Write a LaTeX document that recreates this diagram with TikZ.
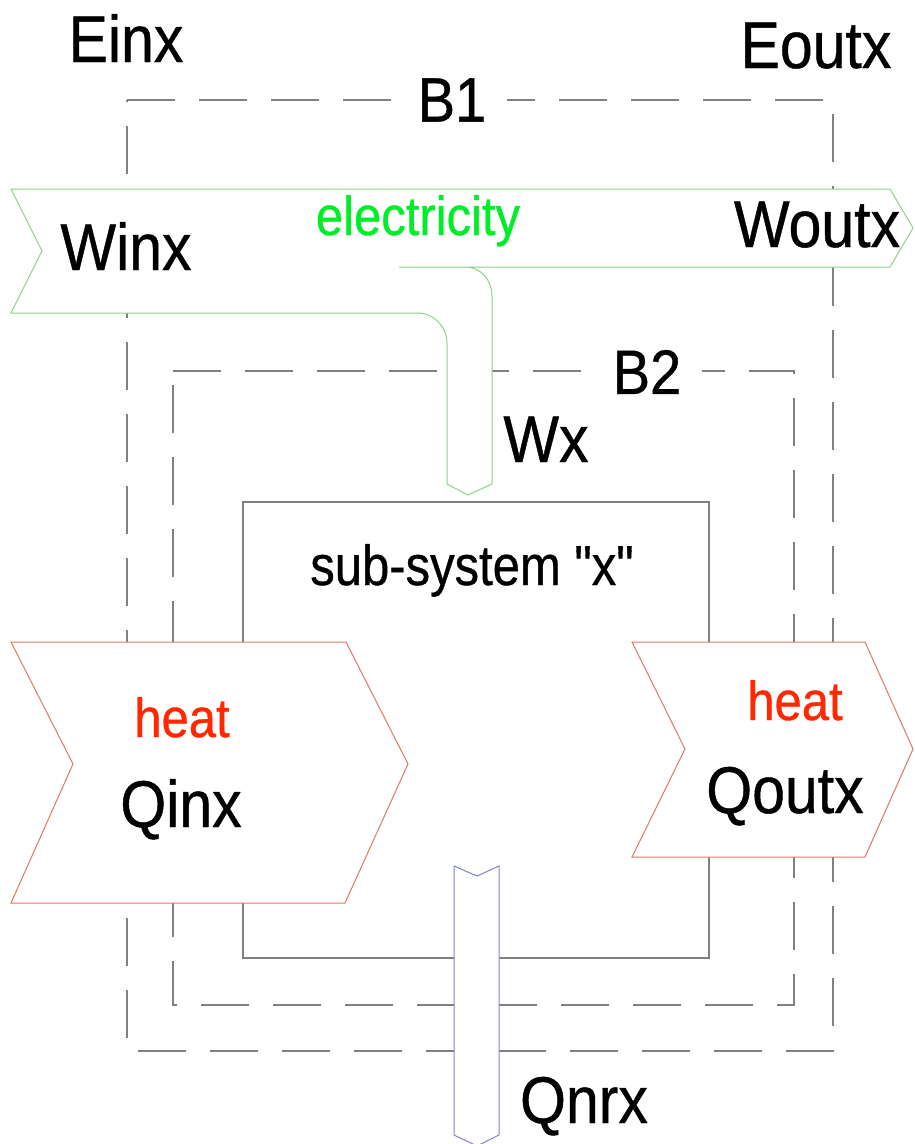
\documentclass[tikz,border=0pt]{standalone}
\usepackage{fontspec}
\setmainfont[FakeBold=0.7, Ligatures=TeXOff]{Liberation Sans}
\newcommand{\tallx}[1]{\scalebox{1}[1.12]{#1}}
\definecolor{gridgrey}{RGB}{128,128,128}
\definecolor{elecline}{RGB}{140,210,140}
\definecolor{electext}{RGB}{0,238,40}
\definecolor{heatline}{RGB}{225,120,100}
\definecolor{heattext}{RGB}{255,40,0}
\definecolor{nrline}{RGB}{130,130,220}
\begin{document}
\begin{tikzpicture}[x=1pt,y=-1pt,
  gline/.style={draw=gridgrey, line width=1.2pt},
  bound/.style={gline, dash pattern=on 48pt off 24pt},
  flow/.style={fill=white, line width=1pt, line join=miter},
  lbl/.style={anchor=base, inner sep=0pt, font=\fontsize{59}{60}\selectfont},
  lblsmall/.style={anchor=base, inner sep=0pt, font=\fontsize{49}{50}\selectfont},
  blabel/.style={fill=white, inner xsep=21pt, inner ysep=2pt, font=\fontsize{56}{58}\selectfont}
]
\useasboundingbox (0,0) rectangle (914,1144);

% boundaries
\draw[bound] (127,100) -- (833,100) -- (833,1051) -- (127,1051) -- cycle;
\draw[bound] (173,371) -- (794,371) -- (794,1005) -- (173,1005) -- cycle;
% sub-system box
\draw[gline] (243,502) rectangle (709,958);

% electricity flow
\fill[white] (11,189) -- (890,189) -- (913,228) -- (890,267) -- (465,267)
  .. controls (481,267) and (492,280) .. (492,296) -- (492,484) -- (468,495)
  -- (447,484) -- (447,343) .. controls (447,327) and (434,313) .. (418,313)
  -- (11,313) -- (42,251) -- cycle;
\draw[draw=elecline, line width=1pt] (399,267) -- (890,267) -- (913,228) -- (890,189)
  -- (11,189) -- (42,251) -- (11,313) -- (418,313)
  .. controls (434,313) and (447,327) .. (447,343) -- (447,484) -- (468,495)
  -- (492,484) -- (492,296) .. controls (492,280) and (481,267) .. (465,267);

% heat in
\draw[flow, draw=heatline] (11,642) -- (346,642) -- (408,764) -- (345,903)
  -- (11,903) -- (73,764) -- cycle;
% heat out
\draw[flow, draw=heatline] (632,642) -- (865,642) -- (913,749) -- (865,857)
  -- (632,857) -- (685,749) -- cycle;
% non-recovered heat
\draw[flow, draw=nrline] (454,866) -- (477,876) -- (499,866) -- (499,1135)
  -- (477,1146) -- (454,1135) -- cycle;

% labels
\node[blabel] (b1) at (452,100) {\tallx{B1}};
\node[blabel] (b2) at (647,372) {\tallx{B2}};
\node[lbl] (einx) at (126,62) {\tallx{Einx}};
\node[lbl] (eoutx) at (816,68) {\tallx{Eoutx}};
\node[lbl] (winx) at (126,270) {\tallx{Winx}};
\node[lblsmall, text=electext] (elec) at (418,235) {\tallx{electricity}};
\node[lbl] (woutx) at (817,247) {\tallx{Woutx}};
\node[lbl] (wx) at (546,462) {\tallx{Wx}};
\node[lblsmall] (sub) at (472,585) {\scalebox{1}[1.15]{sub-system "x"}};
\node[lblsmall, text=heattext] (heatin) at (182,737) {\tallx{heat}};
\node[lbl] (qinx) at (181,827) {\tallx{Qinx}};
\node[lblsmall, text=heattext] (heatout) at (795,720) {\tallx{heat}};
\node[lbl] (qoutx) at (785,813) {\tallx{Qoutx}};
\node[lbl] (qnrx) at (584,1123) {\tallx{Qnrx}};
\end{tikzpicture}
\end{document}
